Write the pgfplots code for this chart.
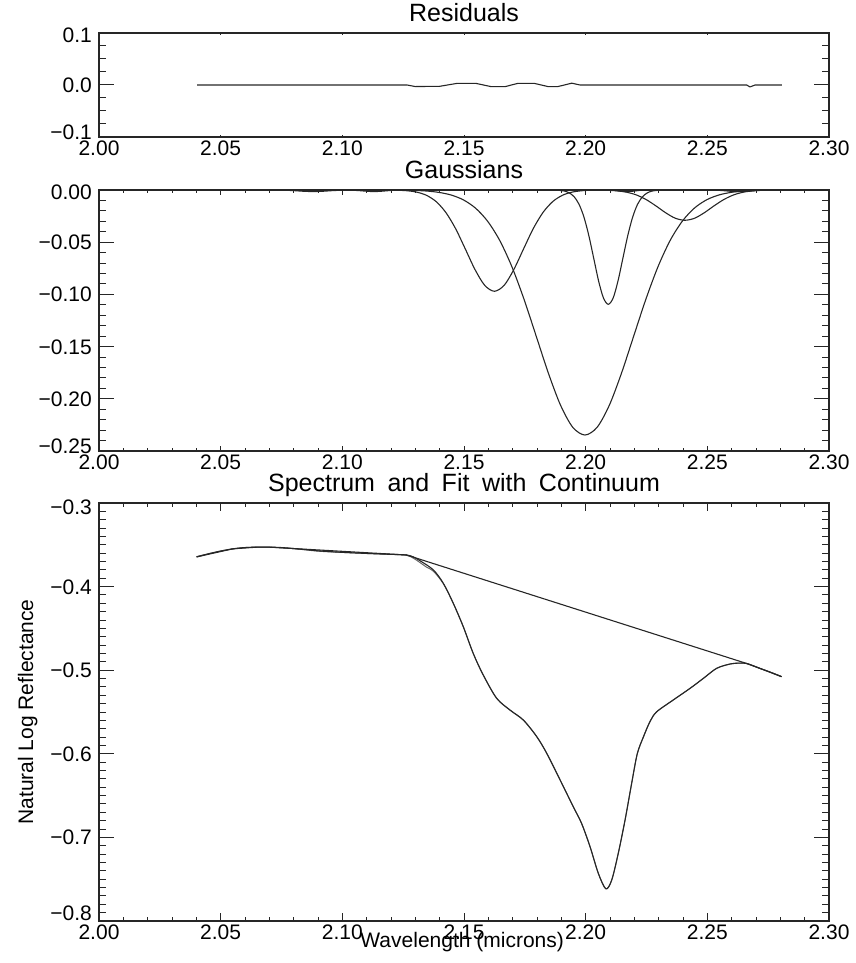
\documentclass[border=0pt]{standalone}
\usepackage{fontspec}
\setmainfont{Liberation Sans}
\usepackage{pgfplots}
\pgfplotsset{compat=1.18}

\pgfplotsset{
  idl/.style={
    scale only axis, width=730pt,
    xmin=2, xmax=2.3,
    tick align=inside,
    axis line style={line width=1.2pt, black!85},
    tick style={black!85, line width=1.0pt},
    tick label style={font=\fontsize{21}{24}\selectfont, inner sep=0pt},
    xticklabel style={anchor=north, yshift=-4pt},
    yticklabel style={anchor=base east, xshift=-7pt, yshift=-7.5pt},
    title style={font={\fontsize{25}{30}\selectfont\spaceskip=0.5em\relax}, at={(0.5,1)}, anchor=base, yshift=5.5pt, inner sep=0pt},
    label style={font=\fontsize{21}{24}\selectfont, inner sep=0pt},
    cycle list={{black!85, mark=none}},
    every axis plot/.append style={line width=1.1pt, line join=round, mark=none},
  },
  idlx/.style={idl,
    xtick={2.00,2.05,2.10,2.15,2.20,2.25,2.30},
    xticklabels={2.00,2.05,2.10,2.15,2.20,2.25,2.30},
    minor x tick num=4,
    ytick=\empty,
  },
  idly/.style={idl,
    xtick=\empty,
    major tick length=14.6pt, minor tick length=7.3pt,
  },
}

\begin{document}
\begin{tikzpicture}
\useasboundingbox (0pt,0pt) rectangle (855pt,-963pt);

% ---------------- Residuals ----------------
\begin{axis}[idlx, height=104pt, at={(99pt,-33pt)}, anchor=north west,
  title={Residuals}, ymin=-0.1, ymax=0.1,
  major tick length=2.1pt, minor tick length=1.1pt,
]
\addplot[black!85] coordinates {
(2.0403,0) (2.1266,0) (2.1300,-0.0030) (2.1400,-0.0025) (2.1470,0.0030)
(2.1550,0.0030) (2.1610,-0.0030) (2.1670,-0.0030) (2.1720,0.0030)
(2.1790,0.0030) (2.1845,-0.0030) (2.1886,-0.0030) (2.1943,0.0035)
(2.1977,0) (2.2662,0) (2.2675,-0.0038) (2.2696,0) (2.2806,0)
};
\end{axis}
\begin{axis}[idly, height=104pt, at={(99pt,-33pt)}, anchor=north west,
  ymin=-0.1, ymax=0.1, ytick={-0.1,0,0.1},
  yticklabels={\raisebox{4.5pt}{−0.1},0.0,\raisebox{-2pt}{0.1}},
  minor y tick num=3,
]
\end{axis}

% ---------------- Gaussians ----------------
\begin{axis}[idlx, height=261pt, at={(99pt,-190pt)}, anchor=north west,
  title={Gaussians}, ymin=-0.25, ymax=0,
  major tick length=5.2pt, minor tick length=2.6pt,
]
% Gaussian A
\addplot[black!85, smooth] coordinates {
(2.1225,-0.0002) (2.1265,-0.0007) (2.1305,-0.0020) (2.1345,-0.0050)
(2.1385,-0.0110) (2.1425,-0.0214) (2.1465,-0.0368) (2.1505,-0.0563)
(2.1545,-0.0761) (2.1585,-0.0913) (2.1625,-0.0970) (2.1665,-0.0913)
(2.1705,-0.0761) (2.1745,-0.0563) (2.1785,-0.0368) (2.1825,-0.0214)
(2.1865,-0.0110) (2.1905,-0.0050) (2.1945,-0.0020) (2.1985,-0.0007)
(2.2025,-0.0002)
};
% Gaussian B
\addplot[black!85, smooth] coordinates {
(2.1297,-0.0004) (2.1347,-0.0010) (2.1397,-0.0023) (2.1447,-0.0048)
(2.1497,-0.0094) (2.1547,-0.0173) (2.1597,-0.0299) (2.1647,-0.0484)
(2.1697,-0.0736) (2.1747,-0.1049) (2.1797,-0.1402) (2.1847,-0.1756)
(2.1897,-0.2063) (2.1947,-0.2273) (2.1997,-0.2347) (2.2047,-0.2273)
(2.2097,-0.2063) (2.2147,-0.1756) (2.2197,-0.1402) (2.2247,-0.1049)
(2.2297,-0.0736) (2.2347,-0.0484) (2.2397,-0.0299) (2.2447,-0.0173)
(2.2497,-0.0094) (2.2547,-0.0048) (2.2597,-0.0023) (2.2647,-0.0010)
(2.2697,-0.0004)
};
% Gaussian C
\addplot[black!85, smooth] coordinates {
(2.1893,-0.0004) (2.1913,-0.0010) (2.1933,-0.0028) (2.1953,-0.0066)
(2.1973,-0.0138) (2.1993,-0.0260) (2.2013,-0.0437) (2.2033,-0.0653)
(2.2053,-0.0870) (2.2073,-0.1034) (2.2093,-0.1095) (2.2113,-0.1034)
(2.2133,-0.0870) (2.2153,-0.0653) (2.2173,-0.0437) (2.2193,-0.0260)
(2.2213,-0.0138) (2.2233,-0.0066) (2.2253,-0.0028) (2.2273,-0.0010)
(2.2293,-0.0004)
};
% Gaussian D
\addplot[black!85, smooth] coordinates {
(2.2088,-0.0003) (2.2128,-0.0008) (2.2168,-0.0021) (2.2208,-0.0047)
(2.2248,-0.0091) (2.2288,-0.0151) (2.2328,-0.0217) (2.2368,-0.0270)
(2.2408,-0.0290) (2.2448,-0.0270) (2.2488,-0.0217) (2.2528,-0.0151)
(2.2568,-0.0091) (2.2608,-0.0047) (2.2648,-0.0021) (2.2688,-0.0008)
(2.2728,-0.0003)
};
% small components
\addplot[black!85, smooth] coordinates {
(2.076,-0.0002) (2.080,-0.0006) (2.084,-0.0012) (2.088,-0.0015)
(2.092,-0.0012) (2.096,-0.0006) (2.100,-0.0002)
};
\addplot[black!85, smooth] coordinates {
(2.104,-0.0002) (2.107,-0.0006) (2.110,-0.0012) (2.113,-0.0015)
(2.116,-0.0012) (2.119,-0.0006) (2.122,-0.0002)
};
\addplot[black!85, smooth] coordinates {
(2.211,-0.0002) (2.213,-0.0007) (2.215,-0.0013) (2.217,-0.0015)
(2.219,-0.0013) (2.221,-0.0007) (2.223,-0.0002)
};
\addplot[black!85, smooth] coordinates {
(2.254,-0.0002) (2.257,-0.0007) (2.260,-0.0013) (2.263,-0.0015)
(2.266,-0.0013) (2.269,-0.0007) (2.272,-0.0002)
};
\end{axis}
\begin{axis}[idly, height=261pt, at={(99pt,-190pt)}, anchor=north west,
  ymin=-0.25, ymax=0, ytick={-0.25,-0.20,-0.15,-0.10,-0.05,0},
  yticklabels={\raisebox{5pt}{−0.25},−0.20,−0.15,−0.10,−0.05,\raisebox{-1.5pt}{0.00}},
  minor y tick num=4,
]
\end{axis}

% ---------------- Spectrum and Fit with Continuum ----------------
\begin{axis}[idlx, height=418pt, at={(99pt,-503pt)}, anchor=north west,
  title={Spectrum and Fit with Continuum}, ymin=-0.8, ymax=-0.3,
  major tick length=8.4pt, minor tick length=4.2pt,
  xlabel={Wavelength (microns)},
  ylabel={Natural Log Reflectance},
  x label style={at={(axis description cs:0.4975,-0.0622)}, anchor=base},
  y label style={at={(axis description cs:-0.0904,0.5)}, rotate=0, anchor=base},
]
% fit
\addplot[smooth, black!60, line width=1.0pt] coordinates {
(2.0401,-0.3642) (2.0500,-0.3574) (2.0600,-0.3533) (2.0700,-0.3529)
(2.0800,-0.3546) (2.0900,-0.3576) (2.1000,-0.3591) (2.1100,-0.3604)
(2.1200,-0.3614) (2.1264,-0.3625) (2.1292,-0.3660) (2.1319,-0.3712)
(2.1345,-0.3765) (2.1374,-0.3815) (2.1415,-0.3965) (2.1456,-0.4200)
(2.1497,-0.4478) (2.1538,-0.4798) (2.1579,-0.5057) (2.1634,-0.5333)
(2.1689,-0.5478) (2.1744,-0.5598) (2.1799,-0.5795) (2.1840,-0.5994)
(2.1895,-0.6313) (2.1949,-0.6633) (2.1983,-0.6831) (2.2018,-0.7111)
(2.2052,-0.7430) (2.2083,-0.7615) (2.2107,-0.7510) (2.2134,-0.7190)
(2.2162,-0.6790) (2.2189,-0.6353) (2.2212,-0.6000) (2.2237,-0.5800)
(2.2265,-0.5610) (2.2292,-0.5497) (2.2360,-0.5356) (2.2429,-0.5217)
(2.2484,-0.5097) (2.2538,-0.4978) (2.2593,-0.4926) (2.2630,-0.4915)
(2.2662,-0.4920) (2.2716,-0.4978) (2.2760,-0.5025) (2.2805,-0.5077)
};
% spectrum
\addplot[black!85, smooth] coordinates {
(2.0401,-0.3645) (2.0450,-0.3608) (2.0500,-0.3575) (2.0550,-0.3548)
(2.0600,-0.3533) (2.0650,-0.3528) (2.0700,-0.3528) (2.0750,-0.3533)
(2.0800,-0.3545) (2.0850,-0.3558) (2.0900,-0.3572) (2.0950,-0.3582)
(2.1000,-0.3590) (2.1050,-0.3597) (2.1100,-0.3603) (2.1150,-0.3609)
(2.1200,-0.3614) (2.1264,-0.3622) (2.1292,-0.3645) (2.1319,-0.3690)
(2.1374,-0.3800) (2.1415,-0.3960) (2.1456,-0.4200) (2.1497,-0.4480)
(2.1538,-0.4800) (2.1579,-0.5057) (2.1634,-0.5336) (2.1689,-0.5476)
(2.1744,-0.5596) (2.1799,-0.5795) (2.1840,-0.5994) (2.1895,-0.6313)
(2.1949,-0.6633) (2.1983,-0.6831) (2.2018,-0.7111) (2.2052,-0.7430)
(2.2083,-0.7615) (2.2107,-0.7510) (2.2134,-0.7190) (2.2162,-0.6790)
(2.2189,-0.6353) (2.2212,-0.6000) (2.2237,-0.5800) (2.2265,-0.5610)
(2.2292,-0.5497) (2.2360,-0.5356) (2.2429,-0.5217) (2.2484,-0.5097)
(2.2538,-0.4978) (2.2593,-0.4926) (2.2630,-0.4915) (2.2662,-0.4920)
(2.2716,-0.4978) (2.2760,-0.5025) (2.2805,-0.5077)
};
% continuum
\addplot[black!85] coordinates {
(2.0401,-0.3645) (2.0550,-0.3548) (2.0650,-0.3528) (2.0700,-0.3528)
(2.1264,-0.3622) (2.2662,-0.4920) (2.2716,-0.4978) (2.2805,-0.5077)
};
\end{axis}
\begin{axis}[idly, height=418pt, at={(99pt,-503pt)}, anchor=north west,
  ymin=-0.8, ymax=-0.3, ytick={-0.8,-0.7,-0.6,-0.5,-0.4,-0.3},
  yticklabels={\raisebox{8pt}{−0.8},−0.7,−0.6,−0.5,−0.4,\raisebox{-4pt}{−0.3}},
  minor y tick num=9,
]
\end{axis}
\end{tikzpicture}
\end{document}
